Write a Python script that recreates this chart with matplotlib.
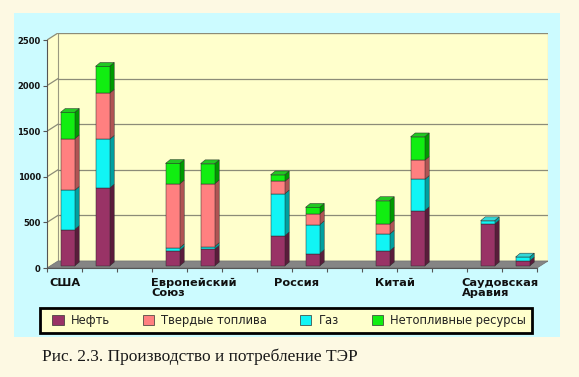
import matplotlib
matplotlib.use("Agg")
import matplotlib.pyplot as plt
from matplotlib.patches import Polygon, Rectangle, Patch
import numpy as np

# ---------------- data ----------------
categories = ["США", "Европейский\nСоюз", "Россия", "Китай", "Саудовская\nАравия"]
series_names = ["Нефть", "Твердые топлива", "Газ", "Нетопливные ресурсы"]
# two bars per category (production, consumption)
oil     = [400, 855, 170, 184, 331, 137, 166, 607, 460, 55]
solid   = [565, 505, 700, 688, 136, 118, 110, 210, 0, 0]
gas     = [430, 535, 30, 30, 460, 316, 184, 342, 37, 44]
nonfuel = [290, 295, 225, 220, 73, 73, 258, 258, 0, 0]
y_ticks = [0, 500, 1000, 1500, 2000, 2500]
caption = "Рис. 2.3. Производство и потребление ТЭР"

# ---------------- style ----------------
front_col = {"Нефть": "#993366", "Твердые топлива": "#FF8080", "Газ": "#11F5F5", "Нетопливные ресурсы": "#11EE11"}
side_col = {"Нефть": "#5A1C3B", "Твердые топлива": "#B05454", "Газ": "#00A0A0", "Нетопливные ресурсы": "#009A00"}
top_col = {"Нефть": "#A8406F", "Твердые топлива": "#FF9A9A", "Газ": "#33D8D8", "Нетопливные ресурсы": "#22C822"}
values = {"Нефть": oil, "Твердые топлива": solid, "Газ": gas, "Нетопливные ресурсы": nonfuel}
stack_order = ["Нефть", "Газ", "Твердые топлива", "Нетопливные ресурсы"]

W, H = 579, 377
fig = plt.figure(figsize=(W / 100, H / 100), dpi=100)
fig.patch.set_facecolor("#FDF9E3")

# blue panel
fig.patches.append(Rectangle((14 / W, 1 - 337 / H), (560 - 14) / W, (337 - 13) / H,
                             transform=fig.transFigure, facecolor="#CCFBFF", edgecolor="none", zorder=-5))
# legend frame
fig.patches.append(Rectangle((40 / W, 1 - 333 / H), (532 - 40) / W, (333 - 308) / H,
                             transform=fig.transFigure, facecolor="#FFFFCC", edgecolor="black",
                             lw=2, zorder=-4))

YMAX = 2500
DX, DY = 0.314, 77.0          # depth of 3D box (data units)
x0, x1 = -0.5, 13.5
ax = fig.add_axes([47 / W, 1 - 268 / H, (548 - 47) / W, (268 - 33) / H])
ax.set_zorder(2)
ax.set_xlim(x0, x1 + DX)
ax.set_ylim(0, YMAX + DY)
ax.patch.set_alpha(0)

wall = "#FFFFCC"
edge = "#9A9A80"
# left wall
ax.add_patch(Polygon([(x0, 0), (x0 + DX, DY), (x0 + DX, YMAX + DY), (x0, YMAX)],
                     closed=True, facecolor=wall, edgecolor="none", zorder=1))
# back wall
ax.add_patch(Rectangle((x0 + DX, DY), x1 - x0, YMAX, facecolor=wall, edgecolor=edge, lw=0.8, zorder=1))
# floor
ax.add_patch(Polygon([(x0, 0), (x1, 0), (x1 + DX, DY), (x0 + DX, DY)],
                     closed=True, facecolor="#858585", edgecolor="#707070", lw=0.5, zorder=2))
# gridlines
for v in y_ticks[1:]:
    ax.plot([x0 + DX, x1 + DX], [v + DY, v + DY], color="#8C8C78", lw=0.9, zorder=1.5)
    ax.plot([x0, x0 + DX], [v, v + DY], color="#8C8C78", lw=0.9, zorder=1.5)

# bars
BW = 0.4
FX, FY = 0.28 * DX, 0.28 * DY
BDX, BDY = 0.42 * DX, 0.42 * DY * 1.3
n = len(oil)
for i in range(n):
    g, k = divmod(i, 2)
    s = 3 * g + k
    xl = s - BW / 2 + FX
    xr = s + BW / 2 + FX
    bottom = 0.0
    for name in stack_order:
        v = values[name][i]
        if v <= 0:
            continue
        b, t = bottom + FY, bottom + v + FY
        ax.add_patch(Polygon([(xr, b), (xr + BDX, b + BDY), (xr + BDX, t + BDY), (xr, t)],
                             closed=True, facecolor=side_col[name], edgecolor="#2A2A2A", lw=0.35, zorder=3))
        ax.add_patch(Rectangle((xl, b), BW, v, facecolor=front_col[name], edgecolor="#2A2A2A", lw=0.35, zorder=4))
        bottom += v
        last = name
    T = bottom + FY
    ax.add_patch(Polygon([(xl, T), (xr, T), (xr + BDX, T + BDY), (xl + BDX, T + BDY)],
                         closed=True, facecolor=top_col[last], edgecolor="#2A2A2A", lw=0.35, zorder=4))

# axes
for sp in ["top", "right"]:
    ax.spines[sp].set_visible(False)
ax.spines["left"].set_bounds(0, YMAX)
ax.spines["bottom"].set_bounds(x0, x1)
ax.spines["left"].set_color("#555555")
ax.spines["bottom"].set_color("#555555")
ax.spines["left"].set_zorder(5)
ax.set_yticks(y_ticks)
ax.set_yticklabels([str(v) for v in y_ticks], fontsize=6, fontweight="bold", color="#111111")
ax.tick_params(axis="y", length=3, width=0.8, color="#555555", pad=1.5)
ax.set_xticks(np.arange(x0, x1 + 0.01, 1.0))
ax.set_xticklabels([])
ax.tick_params(axis="x", length=3, width=0.8, color="#555555")

label_pos = [0.0, 3.7, 6.64, 9.44, 12.45]
for lab, xp in zip(categories, label_pos):
    ax.annotate(lab, xy=(xp, 0), xycoords="data", xytext=(0, -10), textcoords="offset pixels",
                ha="center", va="top", multialignment="left", fontsize=8.2, fontweight="bold",
                color="#111111", linespacing=1.05, annotation_clip=False)

# legend
handles = [Patch(facecolor=front_col[nm], edgecolor="#333333", lw=0.5, label=nm) for nm in series_names]
leg = fig.legend(handles=handles, loc="center", ncol=4, mode="expand",
                 bbox_to_anchor=(52 / W, 1 - 333 / H, (526 - 52) / W, 25 / H),
                 fontsize=8.3, frameon=False, borderaxespad=0,
                 handlelength=1.0, handleheight=1.0, handletextpad=0.6, borderpad=0.0,
                 columnspacing=1.5)
for t in leg.get_texts():
    t.set_color("#222222")

fig.text(42 / W, 1 - 357 / H, caption, family="Liberation Serif", fontsize=12.5,
         va="center", ha="left", color="#1A1A1A")

fig.savefig("out.png", dpi=100, facecolor=fig.get_facecolor())
